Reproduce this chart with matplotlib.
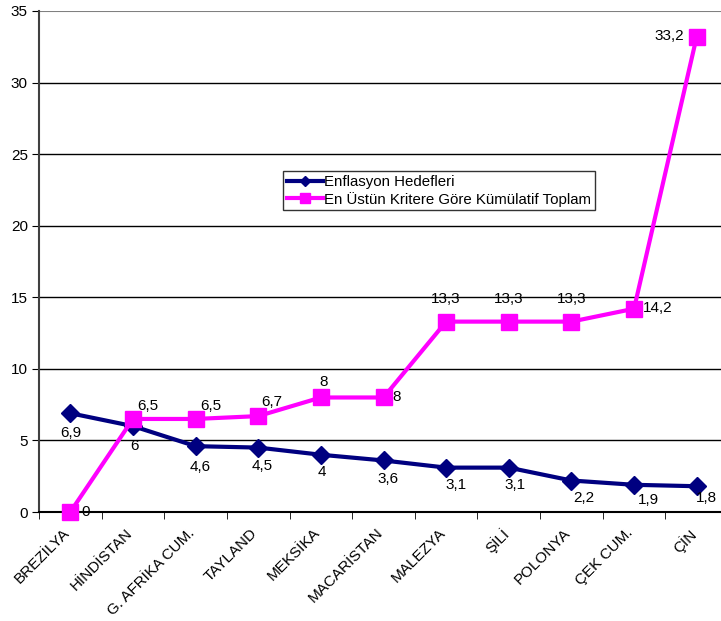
import matplotlib.pyplot as plt
from matplotlib.transforms import ScaledTranslation

plt.rcParams['font.family'] = ['Liberation Sans', 'DejaVu Sans']

ulkeler = ['BREZİLYA', 'HİNDİSTAN', 'G. AFRİKA CUM.', 'TAYLAND', 'MEKSİKA',
           'MACARİSTAN', 'MALEZYA', 'ŞİLİ', 'POLONYA', 'ÇEK CUM.', 'ÇİN']
enflasyon_hedefleri = [6.9, 6.0, 4.6, 4.5, 4.0, 3.6, 3.1, 3.1, 2.2, 1.9, 1.8]
kumulatif_toplam = [0, 6.5, 6.5, 6.7, 8, 8, 13.3, 13.3, 13.3, 14.2, 33.2]

# label offsets in pixels (dx, dy) for each point
ofs_mavi = [(0, -20), (2, -20), (5, -21), (4, -18), (1, -17), (5, -19),
            (10, -17), (6, -17), (12, -17), (14, -15), (10, -12)]
ofs_pembe = [(15, 0), (15, 13), (15, 13), (14, 14), (3, 15), (13, 0),
             (0, 23), (0, 23), (0, 23), (24, 1), (-27, 1)]


def fmt(v):
    s = ('%.1f' % v).rstrip('0').rstrip('.')
    return s.replace('.', ',')


fig = plt.figure(figsize=(7.21, 6.21), dpi=100)
ax = fig.add_axes([39 / 721, 1 - 512 / 621, 689 / 721, 501 / 621])

x = list(range(len(ulkeler)))
ax.plot(x, enflasyon_hedefleri, color='#000080', lw=3, marker='D', ms=9,
        label='Enflasyon Hedefleri', zorder=3)
ax.plot(x, kumulatif_toplam, color='#ff00ff', lw=3, marker='s', ms=11,
        label='En Üstün Kritere Göre Kümülatif Toplam', zorder=4,
        clip_on=False)

for i in x:
    dx, dy = ofs_mavi[i]
    ax.annotate(fmt(enflasyon_hedefleri[i]), (i, enflasyon_hedefleri[i]),
                xytext=(dx * 0.72, dy * 0.72), textcoords='offset points',
                ha='center', va='center', fontsize=11)
    dx, dy = ofs_pembe[i]
    ax.annotate(fmt(kumulatif_toplam[i]), (i, kumulatif_toplam[i]),
                xytext=(dx * 0.72, dy * 0.72), textcoords='offset points',
                ha='center', va='center', fontsize=11)

ax.set_xlim(-0.5, len(ulkeler) - 0.5)
ax.set_ylim(0, 35)
ax.set_yticks(range(0, 36, 5))
ax.set_xticks(x)
ax.set_xticks([i - 0.5 for i in range(len(ulkeler) + 1)], minor=True)
ax.tick_params(axis='x', which='major', length=0, pad=10)
ax.tick_params(axis='x', which='minor', length=5, direction='out', color='black')
ax.tick_params(axis='y', length=5, direction='out', labelsize=11, pad=3)
ax.set_xticklabels(ulkeler, rotation=45, ha='right', rotation_mode='anchor',
                   fontsize=11)
# nudge the slanted category names a little to the left
kaydir = ScaledTranslation(-8 / 100, 0, fig.dpi_scale_trans)
for lbl in ax.get_xticklabels():
    lbl.set_transform(lbl.get_transform() + kaydir)

for v in range(5, 35, 5):
    ax.axhline(v, color='black', lw=1, zorder=1)
ax.axhline(35, color='#808080', lw=1.5, zorder=1)

ax.spines['top'].set_visible(False)
ax.spines['right'].set_visible(False)
ax.spines['left'].set_color('#404040')
ax.spines['left'].set_linewidth(1.5)
ax.spines['bottom'].set_color('black')
ax.spines['bottom'].set_linewidth(1.5)

leg = ax.legend(loc='upper left', bbox_to_anchor=(244 / 689, 1 - 160 / 501),
                fontsize=10.8, frameon=True, fancybox=False, edgecolor='black',
                handlelength=2.4, handletextpad=0.1, borderpad=0.25,
                labelspacing=0.2, markerscale=0.6, borderaxespad=0)
leg.get_frame().set_linewidth(1)

fig.savefig('out.png', dpi=100)
